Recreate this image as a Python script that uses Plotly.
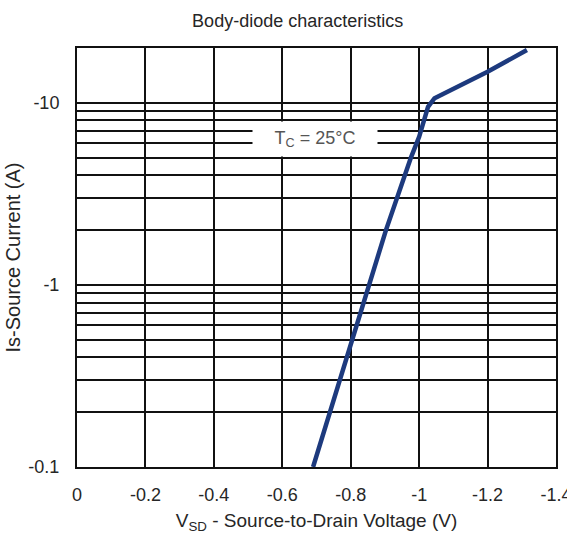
import numpy as np
import plotly.graph_objects as go

# Body-diode forward characteristic, Tc = 25 °C
vsd = [-0.69, -0.74, -0.80, -0.856, -0.903, -0.976, -1.00, -1.026, -1.045, -1.20, -1.315]
i_s = [-0.1, -0.2, -0.47, -1.0, -2.0, -5.0, -6.5, -9.5, -10.6, -14.8, -19.5]

x_ticks = [0, -0.2, -0.4, -0.6, -0.8, -1.0, -1.2, -1.4]
x_labels = ["0", "-0.2", "-0.4", "-0.6", "-0.8", "-1", "-1.2", "-1.4"]
y_ticks = [0.1, 1, 10]
y_labels = ["-0.1", "-1", "-10"]

FONT = "Liberation Sans, Arial, sans-serif"
GRID = "#111111"
TEXT = "#262626"

fig = go.Figure()

fig.add_trace(go.Scatter(
    x=vsd, y=np.abs(i_s), mode="lines",
    line=dict(color="#1d3a7e", width=4.5),
    showlegend=False,
))

# temperature label on a white plate that cuts the grid lines behind it
fig.add_annotation(
    x=-0.697, y=0.80, xref="x", yref="y",
    text="T<sub>C</sub> = 25°C", showarrow=False,
    font=dict(family=FONT, size=18, color="#555555"),
    bgcolor="white", width=120, height=30, borderpad=2,
)

fig.update_layout(
    template="none",
    width=567, height=538,
    margin=dict(l=77, r=11, t=48, b=71),
    paper_bgcolor="white", plot_bgcolor="white",
    font=dict(family=FONT, color=TEXT, size=18),
    title=dict(text="Body-diode characteristics", x=0.525, xanchor="center",
               y=0.962, yanchor="middle", font=dict(size=18, color=TEXT)),
)

fig.update_xaxes(
    range=[0, -1.4], tickvals=x_ticks, ticktext=x_labels,
    showgrid=True, gridcolor=GRID, gridwidth=2,
    showline=True, linecolor=GRID, linewidth=2, mirror=True,
    ticks="", ticklabelstandoff=10, zeroline=False, automargin=False,
    ticklabeloverflow="allow",
    tickfont=dict(size=18, color=TEXT),
    title=dict(text="V<sub>SD</sub> - Source-to-Drain Voltage (V)", standoff=10,
               font=dict(size=19, color=TEXT)),
)

fig.update_yaxes(
    type="log", range=[-1, np.log10(20)],
    tickvals=y_ticks, ticktext=y_labels,
    showgrid=True, gridcolor=GRID, gridwidth=2,
    minor=dict(dtick="D1", showgrid=True, gridcolor=GRID, gridwidth=2, ticks=""),
    showline=True, linecolor=GRID, linewidth=2, mirror=True,
    ticks="", ticklabelstandoff=12, zeroline=False, automargin=False,
    tickfont=dict(size=18, color=TEXT),
    title=dict(text="Is-Source Current (A)", standoff=2,
               font=dict(size=20, color=TEXT)),
)

fig.write_html("out.html")
